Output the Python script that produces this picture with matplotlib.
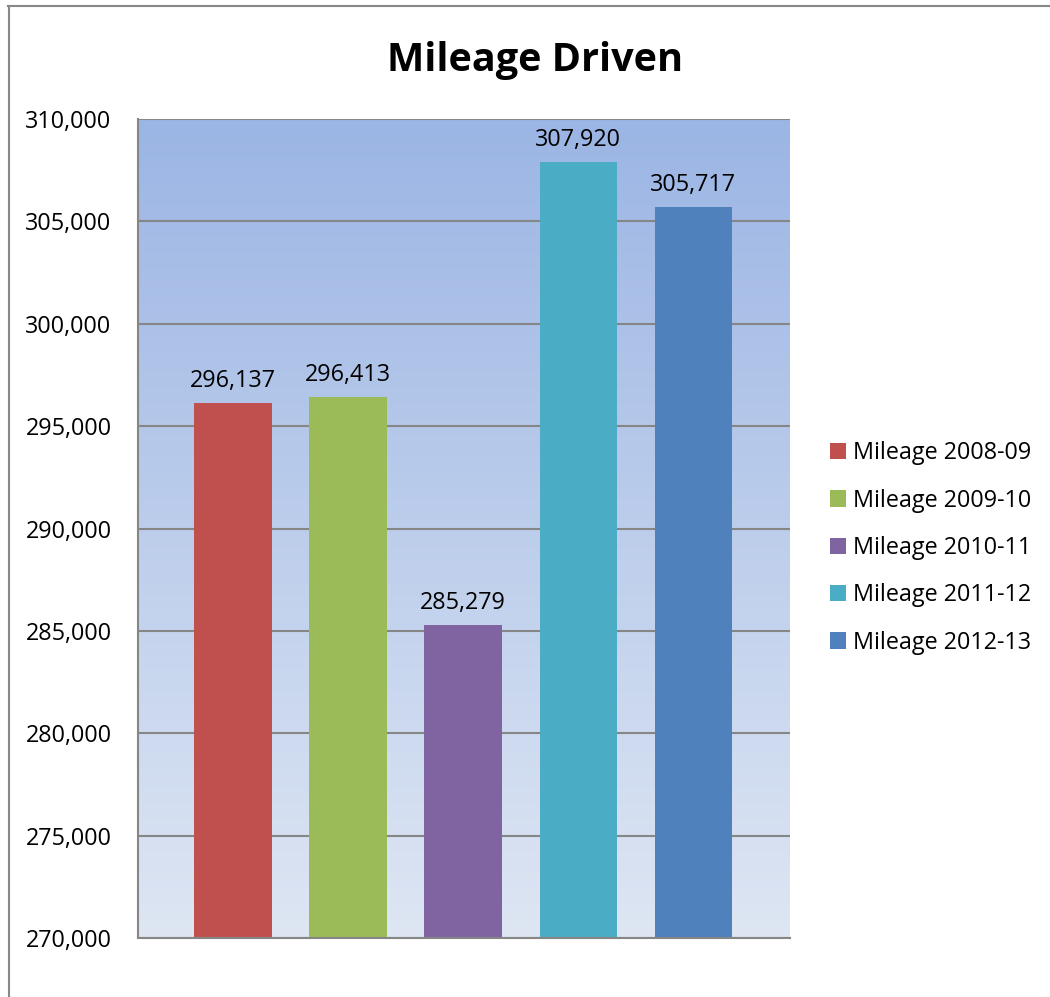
import numpy as np
import matplotlib
matplotlib.use('Agg')
import matplotlib.pyplot as plt
from matplotlib.colors import LinearSegmentedColormap
from matplotlib.lines import Line2D

plt.rcParams['font.family'] = ['Open Sans', 'DejaVu Sans']

# 各年度行驶里程
seasons = ['Mileage 2008-09', 'Mileage 2009-10', 'Mileage 2010-11',
           'Mileage 2011-12', 'Mileage 2012-13']
mileage = [296137, 296413, 285279, 307920, 305717]
colors = ['#C0504D', '#9BBB59', '#8064A2', '#4BACC6', '#4F81BD']

y_min, y_max, y_step = 270000, 310000, 5000

fig = plt.figure(figsize=(10.5, 9.97), dpi=100)
ax = fig.add_axes([138 / 1050, 1 - 938 / 997, 652 / 1050, 819 / 997])

x = np.arange(len(mileage))
xlim = (-0.826, 4.843)

# 背景渐变（上深下浅）
grad = LinearSegmentedColormap.from_list('bg', ['#DEE6F3', '#9BB5E4'])
ax.imshow(np.linspace(0, 1, 256).reshape(-1, 1), cmap=grad, origin='lower',
          aspect='auto', extent=[xlim[0], xlim[1], y_min, y_max], zorder=0)

bars = ax.bar(x, mileage, width=0.67, color=colors, bottom=0, zorder=3)
for xi, v in zip(x, mileage):
    ax.annotate(f'{v:,}', (xi, v), xytext=(0, 7), textcoords='offset points',
                ha='center', va='bottom', fontsize=16.8, zorder=4)

ax.set_xlim(*xlim)
ax.set_ylim(y_min, y_max)
ax.set_yticks(np.arange(y_min, y_max + 1, y_step))
ax.yaxis.set_major_formatter(matplotlib.ticker.FuncFormatter(lambda v, p: f'{int(v):,}'))
ax.set_xticks([])
ax.tick_params(axis='y', length=0, labelsize=16.8, pad=19)
ax.grid(axis='y', color='#868686', linewidth=1.5, zorder=1)
for g in ax.get_ygridlines():
    g.set_zorder(1)
for s in ['top', 'right']:
    ax.spines[s].set_visible(False)
for s in ['left', 'bottom']:
    ax.spines[s].set_color('#868686')
    ax.spines[s].set_linewidth(1.5)
    ax.spines[s].set_zorder(5)

fig.text(535 / 1050, 1 - 60 / 997, 'Mileage Driven', ha='center', va='center',
         fontsize=28.5, fontweight='bold')

fig.legend(bars, seasons, loc='center left', bbox_to_anchor=(809 / 1050, 1 - 548 / 997),
           frameon=False, fontsize=16.8, handlelength=0.7, handleheight=0.7,
           handletextpad=0.3, labelspacing=1.0)

# 外框（左、上）
fig.add_artist(Line2D([8.5 / 1050, 8.5 / 1050], [0, 1 - 6 / 997], color='#888888', lw=1.5))
fig.add_artist(Line2D([8 / 1050, 1], [1 - 6.5 / 997, 1 - 6.5 / 997], color='#888888', lw=1.5))

fig.savefig('out.png', dpi=100)
